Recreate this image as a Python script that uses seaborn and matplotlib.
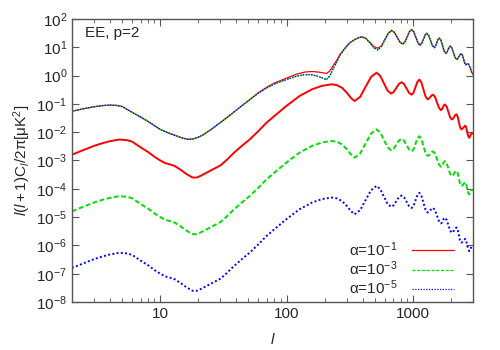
import matplotlib
matplotlib.use("Agg")
import matplotlib.pyplot as plt
import seaborn as sns
from matplotlib.ticker import LogLocator, NullLocator, NullFormatter, FuncFormatter

# multipoles for the total EE spectra
l_tot = [2, 2.5, 3, 3.5, 4, 4.5, 5, 6, 7, 8, 9, 10, 11.5, 13, 15, 16.5, 18, 20, 22, 25,
         30, 35, 40, 50, 60, 70, 80, 100, 120, 140, 160, 180, 195, 207, 220, 235, 250, 264, 290, 316,
         350, 372, 394, 424, 456, 490, 527, 562, 599, 639, 681, 716, 753, 791, 832, 866, 903, 940, 980, 1018,
         1058, 1099, 1142, 1178, 1214, 1253, 1290, 1336, 1381, 1429, 1480, 1514, 1549, 1585, 1620, 1671, 1722, 1775, 1830, 1866,
         1903, 1941, 1980, 2040, 2100, 2163, 2230, 2275, 2323, 2371, 2420, 2474, 2529, 2582, 2640, 2700, 2760, 2850, 2930, 3000]
# total EE (alpha=1e-3 and 1e-5 lie on top of each other)
ee_tot = [0.055, 0.068, 0.079, 0.087, 0.09, 0.088, 0.08, 0.05, 0.034, 0.024, 0.017, 0.0125, 0.0095, 0.0078, 0.0062, 0.0056, 0.0057, 0.0066, 0.0082, 0.012,
          0.022, 0.037, 0.06, 0.13, 0.24, 0.37, 0.5, 0.72, 0.95, 1.08, 1.06, 0.92, 0.8, 0.72, 0.95, 1.8, 3.0, 5.0, 9.0, 14,
          19, 21.5, 23, 20.5, 14.5, 9.6, 8, 10.1, 17.7, 30.9, 39, 33.1, 22.2, 14.9, 12.6, 15, 23, 35.2, 42, 34.7,
          22, 13.9, 11.5, 13.3, 18.9, 26.8, 31, 26.1, 17.3, 11.4, 9.6, 10.8, 14.2, 18.7, 21, 17.5, 11.2, 7.2, 6, 6.6,
          8.1, 10, 11, 9.4, 6.4, 4.3, 3.7, 4.0, 4.7, 5.5, 5.9, 5.2, 3.8, 2.7, 2.4, 2.6, 2.6, 1.9, 1.3, 1.1]
# total EE for alpha=1e-1
ee_tot_a1 = [0.055, 0.068, 0.079, 0.087, 0.09, 0.088, 0.08, 0.05, 0.034, 0.024, 0.017, 0.0125, 0.0095, 0.0078, 0.0062, 0.0056, 0.0057, 0.0066, 0.0082, 0.012,
             0.022, 0.037, 0.06, 0.13, 0.25, 0.39, 0.54, 0.81, 1.12, 1.33, 1.39, 1.32, 1.24, 1.18, 1.44, 2.29, 3.46, 5.42, 9.3, 14.2,
             19.1, 21.7, 23.3, 20.9, 15.2, 10.6, 9.2, 11, 18.2, 31.2, 39.2, 33.4, 22.6, 15.4, 13.2, 15.5, 23.3, 35.4, 42.2, 35,
             22.4, 14.5, 12.2, 13.9, 19.2, 27, 31.1, 26.2, 17.5, 11.6, 9.8, 11, 14.4, 18.8, 21.1, 17.6, 11.3, 7.3, 6.1, 6.7,
             8.2, 10, 11, 9.4, 6.4, 4.3, 3.7, 4.0, 4.7, 5.5, 5.9, 5.2, 3.8, 2.7, 2.4, 2.6, 2.6, 1.9, 1.3, 1.1]

# multipoles for the alpha contributions
l_a = [2, 2.5, 3, 3.5, 4, 4.75, 5.5, 6, 7, 8, 9, 10, 11, 12, 13, 14.5, 16, 18, 19.5, 21,
       23, 26, 30, 34, 38, 44, 51, 60, 69, 80, 100, 127, 160, 190, 227, 250, 275, 300, 325, 346,
       383, 423, 468, 517, 552, 590, 631, 674, 707, 741, 777, 815, 853, 893, 935, 980, 1014, 1051, 1089, 1128,
       1170, 1216, 1262, 1310, 1343, 1377, 1413, 1450, 1502, 1556, 1614, 1670, 1702, 1734, 1766, 1800, 1857, 1916, 1977, 2040,
       2084, 2128, 2173, 2220, 2268, 2317, 2368, 2420, 2472, 2524, 2576, 2600, 2648, 2698, 2748, 2800, 2870, 2930, 3000]
cl_a1 = [1.6e-3, 2.4e-3, 3.3e-3, 4.1e-3, 4.8e-3, 5.5e-3, 5.2e-3, 4.6e-3, 2.9e-3, 2.0e-3, 1.35e-3, 1.0e-3, 8.0e-4, 7.2e-4, 6.4e-4, 4.7e-4, 3.4e-4, 2.5e-4, 2.5e-4, 2.9e-4,
         3.6e-4, 4.8e-4, 6.7e-4, 1.1e-3, 1.8e-3, 3.2e-3, 5.5e-3, 1.1e-2, 2.1e-2, 3.7e-2, 8.5e-2, 0.19, 0.33, 0.43, 0.49, 0.46, 0.37, 0.25, 0.16, 0.126,
         0.176, 0.4, 0.9, 1.26, 0.98, 0.54, 0.295, 0.23, 0.264, 0.365, 0.505, 0.58, 0.5, 0.35, 0.244, 0.21, 0.25, 0.39, 0.6, 0.72,
         0.57, 0.32, 0.183, 0.145, 0.153, 0.175, 0.199, 0.21, 0.175, 0.112, 0.072, 0.06, 0.064, 0.0755, 0.089, 0.095, 0.079, 0.0515, 0.0334, 0.028,
         0.0298, 0.0347, 0.0404, 0.043, 0.036, 0.0233, 0.0151, 0.0126, 0.0132, 0.0146, 0.0163, 0.017, 0.0147, 0.0104, 0.0073, 0.0063, 0.0078, 0.0092, 0.0088]
cl_a3 = [1.6e-5, 2.4e-5, 3.3e-5, 4.1e-5, 4.8e-5, 5.5e-5, 5.2e-5, 4.6e-5, 2.9e-5, 2.0e-5, 1.35e-5, 1.0e-5, 8.0e-6, 7.2e-6, 6.4e-6, 4.7e-6, 3.4e-6, 2.5e-6, 2.5e-6, 2.9e-6,
         3.6e-6, 4.8e-6, 6.7e-6, 1.1e-5, 1.8e-5, 3.2e-5, 5.5e-5, 1.1e-4, 2.1e-4, 3.7e-4, 8.5e-4, 1.9e-3, 3.3e-3, 4.3e-3, 4.9e-3, 4.6e-3, 3.7e-3, 2.5e-3, 1.6e-3, 1.26e-3,
         1.76e-3, 4.0e-3, 9.0e-3, 1.26e-2, 9.8e-3, 5.4e-3, 2.95e-3, 2.3e-3, 2.64e-3, 3.65e-3, 5.05e-3, 5.8e-3, 5.0e-3, 3.5e-3, 2.44e-3, 2.1e-3, 2.5e-3, 3.9e-3, 6.0e-3, 7.2e-3,
         5.7e-3, 3.2e-3, 1.83e-3, 1.45e-3, 1.53e-3, 1.75e-3, 1.99e-3, 2.1e-3, 1.75e-3, 1.12e-3, 7.2e-4, 6.0e-4, 6.4e-4, 7.55e-4, 8.9e-4, 9.5e-4, 7.9e-4, 5.15e-4, 3.34e-4, 2.8e-4,
         2.98e-4, 3.47e-4, 4.04e-4, 4.3e-4, 3.6e-4, 2.33e-4, 1.51e-4, 1.26e-4, 1.32e-4, 1.46e-4, 1.63e-4, 1.7e-4, 1.47e-4, 1.04e-4, 7.3e-5, 6.3e-5, 7.8e-5, 9.2e-5, 8.8e-5]
cl_a5 = [1.6e-7, 2.4e-7, 3.3e-7, 4.1e-7, 4.8e-7, 5.5e-7, 5.2e-7, 4.6e-7, 2.9e-7, 2.0e-7, 1.35e-7, 1.0e-7, 8.0e-8, 7.2e-8, 6.4e-8, 4.7e-8, 3.4e-8, 2.5e-8, 2.5e-8, 2.9e-8,
         3.6e-8, 4.8e-8, 6.7e-8, 1.1e-7, 1.8e-7, 3.2e-7, 5.5e-7, 1.1e-6, 2.1e-6, 3.7e-6, 8.5e-6, 1.9e-5, 3.3e-5, 4.3e-5, 4.9e-5, 4.6e-5, 3.7e-5, 2.5e-5, 1.6e-5, 1.26e-5,
         1.76e-5, 4.0e-5, 9.0e-5, 1.26e-4, 9.8e-5, 5.4e-5, 2.95e-5, 2.3e-5, 2.64e-5, 3.65e-5, 5.05e-5, 5.8e-5, 5.0e-5, 3.5e-5, 2.44e-5, 2.1e-5, 2.5e-5, 3.9e-5, 6.0e-5, 7.2e-5,
         5.7e-5, 3.2e-5, 1.83e-5, 1.45e-5, 1.53e-5, 1.75e-5, 1.99e-5, 2.1e-5, 1.75e-5, 1.12e-5, 7.2e-6, 6.0e-6, 6.4e-6, 7.55e-6, 8.9e-6, 9.5e-6, 7.9e-6, 5.15e-6, 3.34e-6, 2.8e-6,
         2.98e-6, 3.47e-6, 4.04e-6, 4.3e-6, 3.6e-6, 2.33e-6, 1.51e-6, 1.26e-6, 1.32e-6, 1.46e-6, 1.63e-6, 1.7e-6, 1.47e-6, 1.04e-6, 7.3e-7, 6.3e-7, 7.8e-7, 9.2e-7, 8.8e-7]

labels = [r"α=10$^{-1}$", r"α=10$^{-3}$", r"α=10$^{-5}$"]

sns.set_style("ticks")
plt.rcParams['font.family'] = ['Liberation Sans', 'DejaVu Sans']
plt.rcParams['mathtext.fontset'] = 'custom'
plt.rcParams['mathtext.rm'] = 'Liberation Sans'
plt.rcParams['mathtext.it'] = 'Liberation Sans:italic'
plt.rcParams['mathtext.bf'] = 'Liberation Sans:bold'

fig = plt.figure(figsize=(5, 3.5), dpi=100)
ax = fig.add_axes([0.144, 0.137, 0.802, 0.809])

red, green, blue = '#ff0000', '#00e000', '#0000ff'
dash = (0, (2.5, 1.3))
dot = (0, (1, 1.2))

# alpha = 1e-1
sns.lineplot(x=l_tot, y=ee_tot_a1, ax=ax, color=red, lw=0.9, label=labels[0])
sns.lineplot(x=l_a, y=cl_a1, ax=ax, color=red, lw=1.4)
# alpha = 1e-3
sns.lineplot(x=l_tot, y=ee_tot, ax=ax, color=green, lw=0.9, linestyle=dash, label=labels[1])
sns.lineplot(x=l_a, y=cl_a3, ax=ax, color=green, lw=1.4, linestyle=dash)
# alpha = 1e-5
sns.lineplot(x=l_tot, y=ee_tot, ax=ax, color=blue, lw=0.9, linestyle=dot, label=labels[2])
sns.lineplot(x=l_a, y=cl_a5, ax=ax, color=blue, lw=1.4, linestyle=dot)

ax.set_xscale('log')
ax.set_yscale('log')
ax.set_xlim(2, 3000)
ax.set_ylim(1e-8, 1e2)
ax.xaxis.set_major_formatter(FuncFormatter(lambda v, p: f"{v:g}"))
ax.xaxis.set_minor_formatter(NullFormatter())
ax.yaxis.set_major_locator(LogLocator(base=10, numticks=15))
ax.yaxis.set_minor_locator(NullLocator())

for s in ax.spines.values():
    s.set_color('#555555')
    s.set_linewidth(1)
ax.tick_params(which='both', direction='in', top=True, right=True, color='#555555', labelsize=11)
ax.tick_params(which='major', length=5)
ax.tick_params(which='minor', length=3)

ax.set_xlabel("$l$", fontsize=11, labelpad=8)
ax.set_ylabel(r"$l(l+1)$C$_l$/2π[μK$^2$]", fontsize=11, labelpad=2)
ax.text(0.032, 0.95, "EE, p=2", transform=ax.transAxes, va='center', ha='left', fontsize=11)

ax.legend(loc='lower right', bbox_to_anchor=(0.965, 0.0), frameon=False, markerfirst=False,
          handlelength=2.8, fontsize=11, labelspacing=0.05, borderaxespad=0, borderpad=0.3,
          handletextpad=0.9)

fig.savefig('out.png', dpi=100)
